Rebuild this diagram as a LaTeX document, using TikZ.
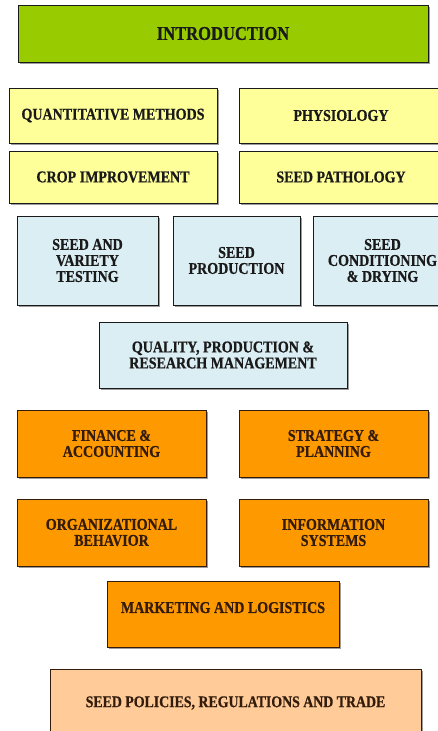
\documentclass[tikz,border=0pt]{standalone}
\usepackage{fontspec}
\newfontfamily\boxfont[FakeStretch=0.85, BoldFeatures={FakeBold=0.6}]{Liberation Serif}
\usetikzlibrary{shadows}

\definecolor{introgreen}{HTML}{99CC00}
\definecolor{paleyellow}{HTML}{FFFF99}
\definecolor{paleblue}{HTML}{DBEEF3}
\definecolor{deeporange}{HTML}{FF9900}
\definecolor{peach}{HTML}{FFCC99}
\definecolor{inkdark}{HTML}{1A1A1A}
\definecolor{inkbrown}{HTML}{331C0C}

\begin{document}
\begin{tikzpicture}[x=1pt, y=-1pt,
    box/.style={draw=inkdark, line width=0.9pt, inner sep=0pt, align=center,
        text=inkdark, font=\boxfont\bfseries\fontsize{16.5}{16}\selectfont,
        drop shadow={shadow xshift=1.6pt, shadow yshift=-1.6pt, fill=black!55, opacity=0.7}},
    intro/.style={box, fill=introgreen, font=\boxfont\bfseries\fontsize{19.5}{20}\selectfont},
    basic/.style={box, fill=paleyellow},
    seedbox/.style={box, fill=paleblue},
    mgmt/.style={box, fill=deeporange, draw=inkbrown, text=inkbrown},
    policy/.style={box, fill=peach, draw=inkbrown, text=inkbrown, font=\boxfont\bfseries\fontsize{16.3}{16.6}\selectfont}]
    \clip (0,0) rectangle (438,731);
    \fill[white] (0,0) rectangle (438,731);

    % Introduction
    \node[intro, minimum width=410pt, minimum height=57pt] (intro) at (223,33.5) {INTRODUCTION};

    % Basic sciences
    \node[basic, minimum width=208pt, minimum height=55pt] (quant) at (113,115.5) {QUANTITATIVE METHODS};
    \node[basic, minimum width=204pt, minimum height=55pt] (physio) at (341,115.5) {PHYSIOLOGY};
    \node[basic, minimum width=208pt, minimum height=52pt] (crop) at (113,177) {CROP IMPROVEMENT};
    \node[basic, minimum width=204pt, minimum height=52pt] (patho) at (341,177) {SEED PATHOLOGY};

    % Seed technology
    \node[seedbox, minimum width=141pt, minimum height=89pt] (testing) at (87.5,260.5) {SEED AND\\VARIETY\\TESTING};
    \node[seedbox, minimum width=127pt, minimum height=89pt] (prod) at (236.5,260.5) {SEED\\PRODUCTION};
    \node[seedbox, minimum width=139pt, minimum height=89pt] (cond) at (382.5,260.5) {SEED\\CONDITIONING\\\& DRYING};
    \node[seedbox, minimum width=248pt, minimum height=66pt] (quality) at (223,355) {QUALITY, PRODUCTION \&\\RESEARCH MANAGEMENT};

    % Business management
    \node[mgmt, minimum width=189pt, minimum height=67pt] (finance) at (111.5,443.5) {FINANCE \&\\ACCOUNTING};
    \node[mgmt, minimum width=189pt, minimum height=67pt] (strategy) at (333.5,443.5) {STRATEGY \&\\PLANNING};
    \node[mgmt, minimum width=189pt, minimum height=67pt] (orgbeh) at (111.5,532.5) {ORGANIZATIONAL\\BEHAVIOR};
    \node[mgmt, minimum width=189pt, minimum height=67pt] (infosys) at (333.5,532.5) {INFORMATION\\SYSTEMS};
    \node[mgmt, minimum width=232pt, minimum height=66pt] (market) at (223,614) {MARKETING AND LOGISTICS\\[-3pt]\mbox{}};

    % Policy
    \node[policy, minimum width=371pt, minimum height=68pt] (policy) at (235.5,703) {SEED POLICIES, REGULATIONS AND TRADE};
\end{tikzpicture}
\end{document}
